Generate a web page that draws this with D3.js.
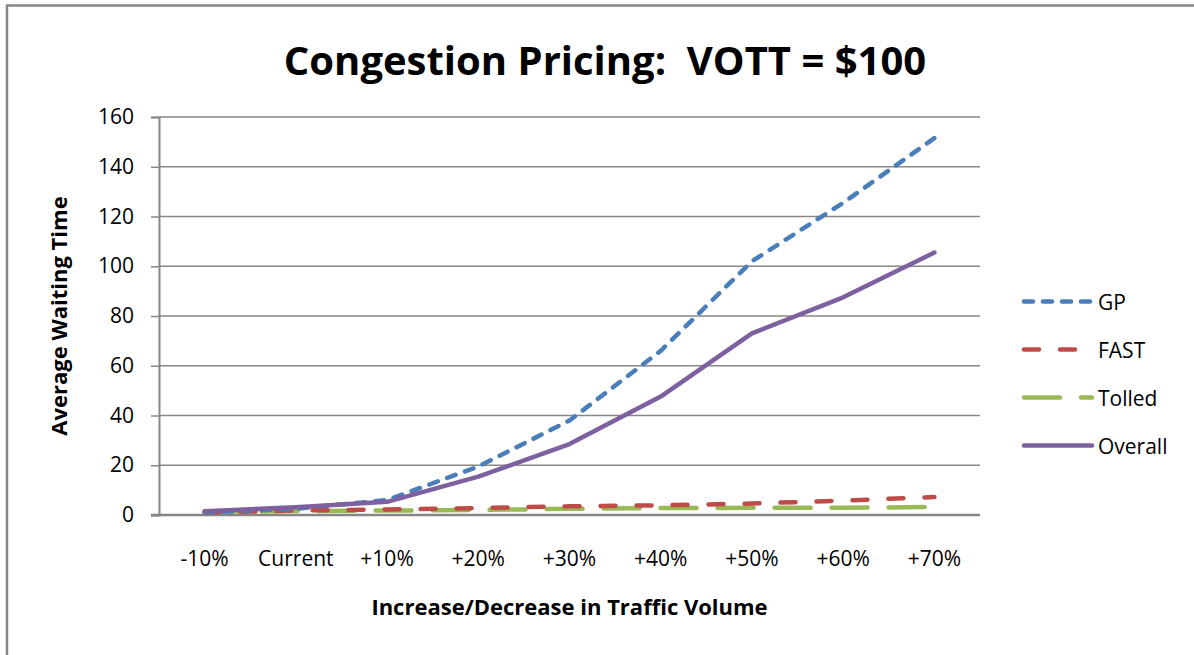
<!DOCTYPE html>
<html>
<head>
<meta charset="utf-8">
<script src="https://d3js.org/d3.v7.min.js"></script>
<style>
    body { margin: 0; background: #fff; }
    svg { display: block; font-family: "Open Sans", Lato, sans-serif; font-variant-ligatures: none; }
</style>
</head>
<body>
<script>
(function(){

    //chart data
    var categories = ["-10%", "Current", "+10%", "+20%", "+30%", "+40%", "+50%", "+60%", "+70%"];
    var gpValues = [1.0, 2.5, 6.0, 19.5, 38.0, 66.0, 102.0, 125.5, 151.5];
    var fastValues = [1.0, 1.8, 2.2, 2.8, 3.5, 3.9, 4.6, 5.8, 7.2];
    var tolledValues = [1.2, 1.6, 1.8, 2.0, 2.5, 2.8, 2.9, 2.9, 3.2];
    var overallValues = [1.5, 3.1, 5.3, 15.4, 28.5, 47.6, 73.0, 87.5, 105.5];
    var yTicks = [0, 20, 40, 60, 80, 100, 120, 140, 160];
    var seriesNames = ["GP", "FAST", "Tolled", "Overall"];

    var width = 1194,
        height = 655;

    var plot = {left: 159, right: 980, top: 117, bottom: 515};

    var seriesList = [
        {name: seriesNames[0], values: gpValues, color: "#4a7ebb", dash: "9,10"},
        {name: seriesNames[1], values: fastValues, color: "#be4b48", dash: "15,21"},
        {name: seriesNames[2], values: tolledValues, color: "#98b954", dash: "36,21"},
        {name: seriesNames[3], values: overallValues, color: "#7d60a0", dash: null}
    ];

    var svg = d3.select("body")
        .append("svg")
        .attr("width", width)
        .attr("height", height);

    //outer chart frame (runs off the right and bottom of the picture)
    svg.append("rect")
        .attr("x", 7)
        .attr("y", 5.5)
        .attr("width", 1300)
        .attr("height", 800)
        .attr("fill", "none")
        .attr("stroke", "#868686")
        .attr("stroke-width", 2.5);

    //scales
    var x = d3.scalePoint()
        .domain(categories)
        .range([plot.left, plot.right])
        .padding(0.5);

    var y = d3.scaleLinear()
        .domain([0, 160])
        .range([plot.bottom, plot.top]);

    //horizontal gridlines
    svg.append("g")
        .attr("class", "grid")
        .selectAll("line")
        .data(yTicks.filter(function(d){ return d > 0; }))
        .enter()
        .append("line")
        .attr("x1", plot.left)
        .attr("x2", plot.right)
        .attr("y1", function(d){ return y(d); })
        .attr("y2", function(d){ return y(d); })
        .attr("stroke", "#868686")
        .attr("stroke-width", 1.5);

    //y axis
    var yAxis = d3.axisLeft(y)
        .tickValues(yTicks)
        .tickSize(8)
        .tickPadding(17);

    var yG = svg.append("g")
        .attr("class", "axis")
        .attr("transform", "translate(" + plot.left + ",0)")
        .call(yAxis);

    yG.select(".domain").attr("stroke", "#868686").attr("stroke-width", 2);
    yG.selectAll(".tick line").attr("stroke", "#868686").attr("stroke-width", 1.5);
    yG.selectAll(".tick text")
        .attr("fill", "#000")
        .style("font-size", "21px")
        .style("font-family", "'Open Sans', sans-serif");

    //x axis baseline
    svg.append("line")
        .attr("x1", plot.left - 8)
        .attr("x2", plot.right)
        .attr("y1", plot.bottom)
        .attr("y2", plot.bottom)
        .attr("stroke", "#868686")
        .attr("stroke-width", 2.5);

    //x category labels
    svg.append("g")
        .selectAll("text")
        .data(categories)
        .enter()
        .append("text")
        .attr("x", function(d){ return x(d); })
        .attr("y", 566)
        .attr("text-anchor", "middle")
        .style("font-size", "21px")
        .text(function(d){ return d; });

    //series lines
    var line = d3.line()
        .x(function(d, i){ return x(categories[i]); })
        .y(function(d){ return y(d); });

    //draw in the same stacking order as the original
    var drawOrder = [2, 1, 0, 3];
    drawOrder.forEach(function(k){
        var s = seriesList[k];
        svg.append("path")
            .datum(s.values)
            .attr("class", "series")
            .attr("d", line)
            .attr("fill", "none")
            .attr("stroke", s.color)
            .attr("stroke-width", 4.5)
            .attr("stroke-linecap", "round")
            .attr("stroke-linejoin", "round")
            .attr("stroke-dasharray", s.dash);
    });

    //legend
    var legend = svg.append("g")
        .attr("class", "legend")
        .selectAll("g")
        .data(seriesList)
        .enter()
        .append("g")
        .attr("transform", function(d, i){
            return "translate(1022," + (301.5 + i * 48) + ")";
        });

    legend.append("line")
        .attr("x1", 2)
        .attr("x2", 70)
        .attr("y1", 0)
        .attr("y2", 0)
        .attr("stroke", function(d){ return d.color; })
        .attr("stroke-width", 4.5)
        .attr("stroke-linecap", "round")
        .attr("stroke-dasharray", function(d){ return d.dash; });

    legend.append("text")
        .attr("x", 76)
        .attr("y", 8)
        .style("font-size", "21px")
        .text(function(d){ return d.name; });

    //titles
    svg.append("text")
        .attr("x", 605)
        .attr("y", 75)
        .attr("text-anchor", "middle")
        .style("font-size", "40px")
        .style("font-weight", "bold")
        .style("white-space", "pre")
        .text("Congestion Pricing:  VOTT = $100");

    svg.append("text")
        .attr("transform", "translate(67," + ((plot.top + plot.bottom) / 2) + ") rotate(-90)")
        .attr("text-anchor", "middle")
        .style("font-size", "22px")
        .style("font-weight", "bold")
        .text("Average Waiting Time");

    svg.append("text")
        .attr("x", (plot.left + plot.right) / 2)
        .attr("y", 615)
        .attr("text-anchor", "middle")
        .style("font-size", "22px")
        .style("font-weight", "bold")
        .text("Increase/Decrease in Traffic Volume");

})();
</script>
</body>
</html>
